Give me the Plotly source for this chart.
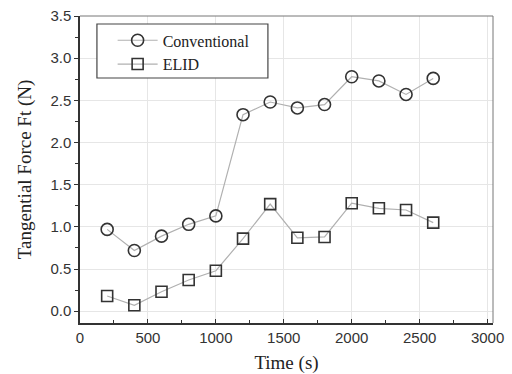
import plotly.graph_objects as go

time_s = [200, 400, 600, 800, 1000, 1200, 1400, 1600, 1800, 2000, 2200, 2400, 2600]
conventional = [0.97, 0.72, 0.89, 1.03, 1.13, 2.33, 2.48, 2.41, 2.45, 2.78, 2.73, 2.57, 2.76]
elid = [0.18, 0.07, 0.23, 0.37, 0.48, 0.86, 1.27, 0.87, 0.88, 1.28, 1.22, 1.20, 1.05]
series_names = ["Conventional", "ELID"]
x_ticks = [0, 500, 1000, 1500, 2000, 2500, 3000]
y_ticks = [0.0, 0.5, 1.0, 1.5, 2.0, 2.5, 3.0, 3.5]

fig = go.Figure()
fig.add_trace(go.Scatter(
    x=time_s, y=conventional, name=series_names[0], mode="lines+markers",
    line=dict(color="#b0b0b0", width=1.2),
    marker=dict(symbol="circle-open", size=12, color="#333333", line=dict(width=1.6, color="#333333")),
))
fig.add_trace(go.Scatter(
    x=time_s, y=elid, name=series_names[1], mode="lines+markers",
    line=dict(color="#b0b0b0", width=1.2),
    marker=dict(symbol="square-open", size=11, color="#333333", line=dict(width=1.6, color="#333333")),
))

fig.update_layout(
    width=512, height=374,
    margin=dict(l=80, r=19, t=16, b=51),
    paper_bgcolor="white", plot_bgcolor="white",
    showlegend=True,
    legend=dict(
        x=0.079, y=0.976, xanchor="left", yanchor="top",
        bgcolor="rgba(0,0,0,0)", borderwidth=0,
        font=dict(family="Liberation Serif", size=16, color="#222222"),
        itemwidth=40,
    ),
    xaxis=dict(
        range=[0, 3040], tickvals=x_ticks, ticktext=[str(v) for v in x_ticks],
        showgrid=True, gridcolor="#e6e6e6", gridwidth=1,
        showline=True, linecolor="#333333", linewidth=1.5, mirror=False,
        ticks="inside", ticklen=4, tickcolor="#333333",
        minor=dict(tickvals=[250, 750, 1250, 1750, 2250, 2750], ticks="inside", ticklen=3, tickcolor="#333333"),
        zeroline=False, automargin=False,
        tickfont=dict(family="Liberation Sans", size=15, color="#333333"),
        title=dict(text="Time (s)", font=dict(family="Liberation Serif", size=19, color="#222222"), standoff=11),
    ),
    yaxis=dict(
        range=[-0.14, 3.5], tickvals=y_ticks, ticktext=[f"{v:.1f}" for v in y_ticks],
        showgrid=True, gridcolor="#e6e6e6", gridwidth=1,
        showline=True, linecolor="#333333", linewidth=1.5, mirror=False,
        ticks="outside", ticklen=4, tickcolor="#333333",
        minor=dict(tickvals=[0.25, 0.75, 1.25, 1.75, 2.25, 2.75, 3.25], ticks="outside", ticklen=3, tickcolor="#333333"),
        zeroline=False, automargin=False,
        tickfont=dict(family="Liberation Sans", size=15, color="#333333"),
        title=dict(text="Tangential Force Ft (N)", font=dict(family="Liberation Serif", size=19, color="#222222"), standoff=14),
    ),
    shapes=[
        dict(type="line", xref="paper", yref="paper", x0=0, x1=1, y0=1, y1=1, line=dict(color="#777777", width=1)),
        dict(type="line", xref="paper", yref="paper", x0=1, x1=1, y0=0, y1=1, line=dict(color="#777777", width=1)),
        dict(type="rect", xref="paper", yref="paper", x0=0.041, x1=0.455, y0=0.798, y1=0.974,
             line=dict(color="#444444", width=1.2), fillcolor="white", layer="above"),
    ],
)

fig.write_html("out.html", config={"displayModeBar": False},
               post_script="document.body.style.margin='0';document.body.style.overflow='hidden';")
